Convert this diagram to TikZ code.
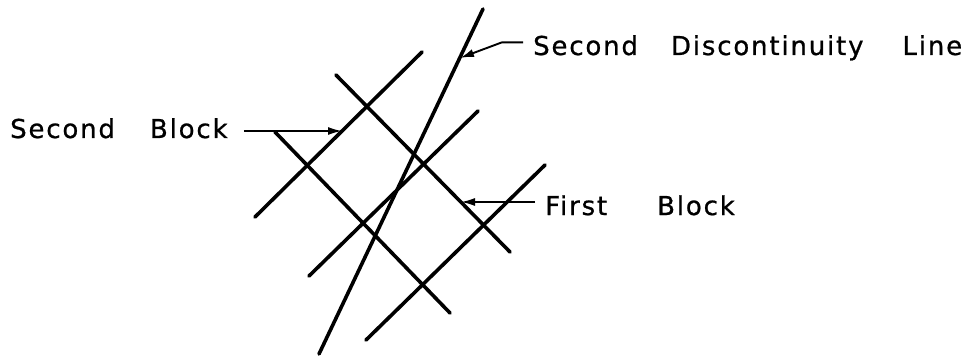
\documentclass[tikz,border=0pt]{standalone}
\usepackage{fontspec}
\newfontfamily\leroy[LetterSpace=7,FakeBold=0.8]{DejaVu Sans}
\usetikzlibrary{arrows.meta,positioning}

\begin{document}
\begin{tikzpicture}[
  x=1pt, y=-1pt,
  joint/.style={line width=3.6pt, line cap=round},
  pointer/.style={-{Latex[length=14pt,width=8pt]}, line width=1.9pt},
  lettering/.style={inner sep=0pt, anchor=base west, font=\leroy\fontsize{26}{26}\selectfont}
]
  \useasboundingbox (0,0) rectangle (976,358);

  % Joints dipping one way
  \draw[joint] (422,52) -- (255,217);
  \draw[joint] (478,111) -- (309,276);
  \draw[joint] (545,165) -- (366,340);
  % Joints dipping the other way
  \draw[joint] (336,75) -- (510,252);
  \draw[joint] (275,132) -- (450,313);
  % Discontinuity line
  \draw[joint] (483,9) -- (319,354);

  % Points the labels refer to
  \coordinate (tipdisc) at (460,58);
  \coordinate (tipblk2) at (342,131);
  \coordinate (tipblk1) at (461,202);

  % Labels
  \node[lettering] (disc) at (533,55) {Second\hspace{33pt}Discontinuity\hspace{39pt}Line};
  \node[lettering] (blk2) at (10,138) {Second\hspace{35pt}Block};
  \node[lettering] (blk1) at (545,215) {First\hspace{50pt}Block};

  % Leaders
  \draw[pointer] ([shift={(-10pt,5.5pt)}]disc.west) -- ++(-21pt,0pt) -- (tipdisc);
  \draw[pointer] ([xshift=16pt]blk2.east |- tipblk2) -- (tipblk2);
  \draw[pointer] ([xshift=-10pt]blk1.west |- tipblk1) -- (tipblk1);
\end{tikzpicture}
\end{document}
